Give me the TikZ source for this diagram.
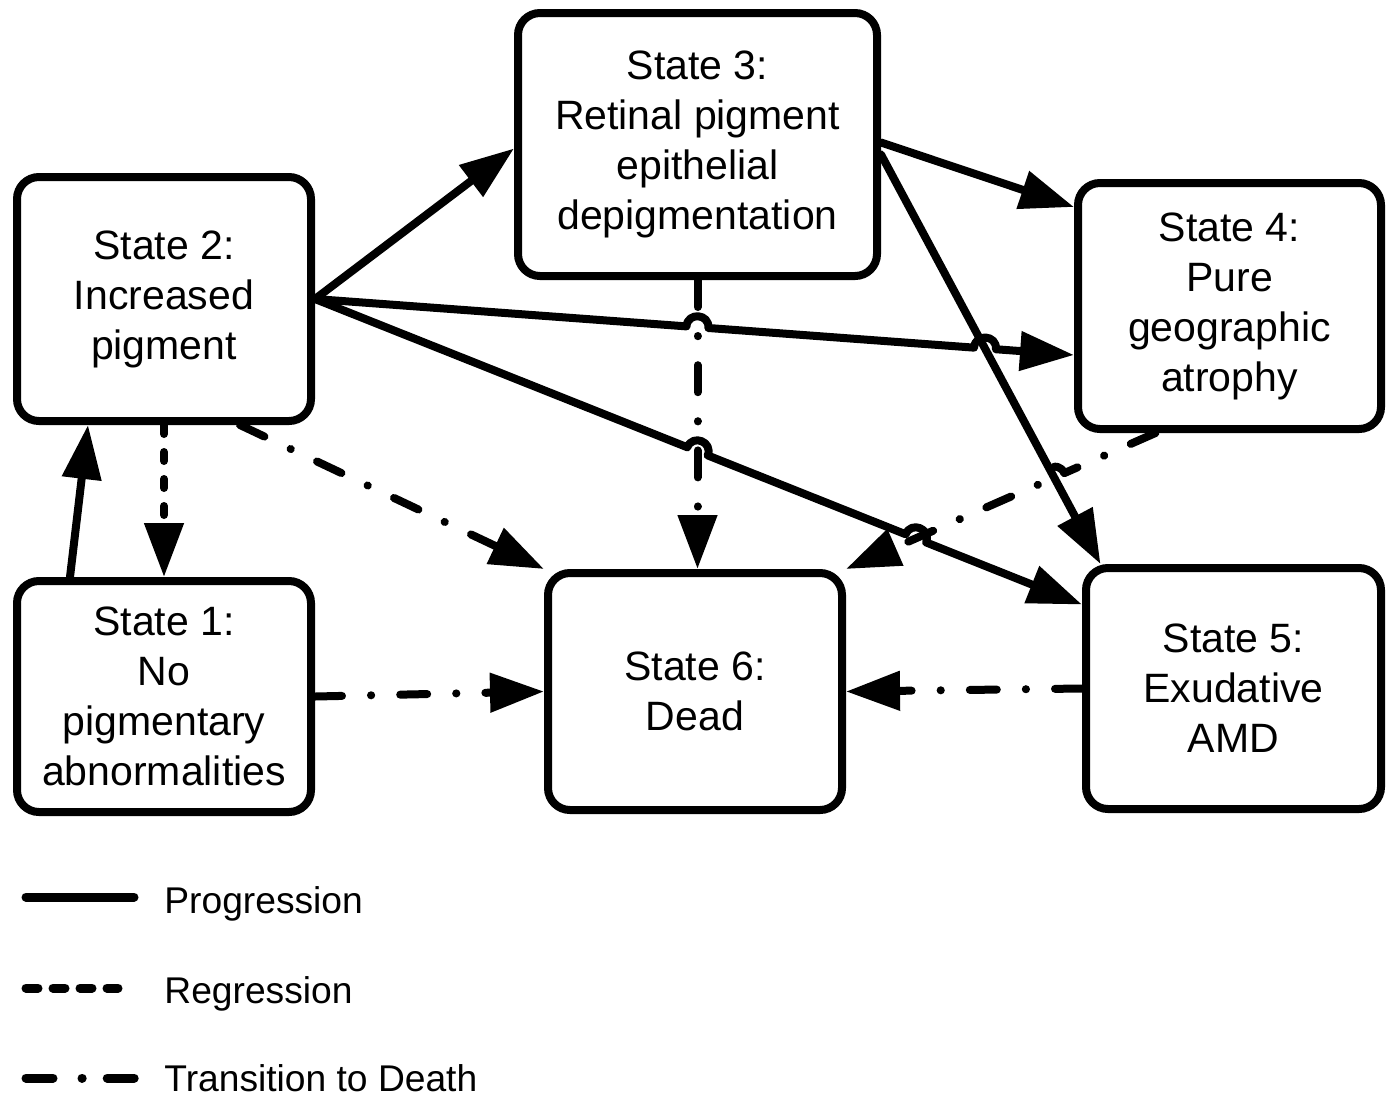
\documentclass[tikz,border=0pt]{standalone}
\usepackage{fontspec}
\setmainfont{Liberation Sans}
\usetikzlibrary{arrows.meta,calc}
\begin{document}
\begin{tikzpicture}[x=0.5pt,y=0.5pt,
  statebox/.style={draw, line width=4pt, rounded corners=11pt, align=center, inner sep=0pt,
    font=\fontsize{20.5pt}{25pt}\selectfont},
  conn/.style={line width=4pt, line cap=round, line join=round, -{Triangle[length=27pt,width=19pt]}},
  prog/.style={conn},
  regr/.style={conn, dash pattern=on 4.5pt off 9pt},
  death/.style={conn, dash pattern=on 13.5pt off 14.5pt on 0.1pt off 14.5pt},
  hopl/.style={bend left=90, looseness=1.7},
  hopr/.style={bend right=90, looseness=1.7},
  legtext/.style={anchor=base west, inner sep=0pt, font=\fontsize{18.6pt}{22pt}\selectfont}
]
\useasboundingbox (0,0) rectangle (1388,-1099);

% states
\node[statebox, minimum width=147pt, minimum height=115.5pt] (s1) at (164,-696.5) {State 1:\\No\\pigmentary\\abnormalities};
\node[statebox, minimum width=147pt, minimum height=122pt] (s2) at (164,-299) {State 2:\\Increased\\pigment};
\node[statebox, minimum width=179.5pt, minimum height=131.5pt] (s3) at (697.5,-144.5) {State 3:\\Retinal pigment\\epithelial\\depigmentation};
\node[statebox, minimum width=151.5pt, minimum height=123pt] (s4) at (1229.5,-306) {State 4:\\Pure\\geographic\\atrophy};
\node[statebox, minimum width=147.5pt, minimum height=120.5pt] (s5) at (1233.5,-688.5) {State 5:\\Exudative\\AMD};
\node[statebox, minimum width=147pt, minimum height=118.5pt] (s6) at (695,-691.5) {State 6:\\Dead};

% end points
\coordinate (o12) at ($(s1.north)+(-94,0)$);
\coordinate (e12) at ($(s2.south)+(-76,0)$);
\coordinate (c2o) at (s2.east);
\coordinate (e23) at ($(s3.west)+(0,-4)$);
\coordinate (e24) at ($(s4.west)+(0,-49)$);
\coordinate (e25) at ($(s5.west)+(0,84)$);
\coordinate (o26) at ($(s2.south)+(76,0)$);
\coordinate (o34) at ($(s3.east)+(0,2)$);
\coordinate (e34) at ($(s4.west)+(0,99)$);
\coordinate (o35) at ($(s3.east)+(0,-10)$);
\coordinate (e35) at ($(s5.north)+(-133,0)$);
\coordinate (o36) at (s3.south);
\coordinate (e36) at (s3.south |- s6.north);
\coordinate (o46) at ($(s4.south)+(-74,0)$);
\coordinate (e46) at (s6.north east);

% crossings
\coordinate (x1) at (intersection of c2o--e24 and o36--e36);
\coordinate (x2) at (intersection of c2o--e24 and o35--e35);
\coordinate (x3) at (intersection of c2o--e25 and o36--e36);
\coordinate (x4) at (intersection of c2o--e25 and o46--e46);
\coordinate (x5) at (intersection of o46--e46 and o35--e35);

% progression
\draw[prog] (o12) -- (e12);
\draw[prog] (c2o) -- (e23);
\draw[prog] (o34) -- (e34);
\draw[prog] (o35) -- (e35);
\draw[prog] (c2o) -- ($(x1)!5.5pt!(c2o)$) to[hopl] ($(x1)!5.5pt!(e24)$)
  -- ($(x2)!5.5pt!(c2o)$) to[hopl] ($(x2)!5.5pt!(e24)$) -- (e24);
\draw[prog] (c2o) -- ($(x3)!5.5pt!(c2o)$) to[hopl] ($(x3)!5.5pt!(e25)$)
  -- ($(x4)!5.5pt!(c2o)$) to[hopl] ($(x4)!5.5pt!(e25)$) -- (e25);

% regression
\draw[regr] (s2.south) -- (s1.north);

% transitions to death
\draw[death] (s1.east) -- (s6.west);
\draw[death] (o26) -- (s6.north west);
\draw[death] (o36) -- (e36);
\draw[death] (o46) -- ($(x5)!5.5pt!(o46)$) to[hopr] ($(x5)!5.5pt!(e46)$) -- (e46);
\draw[death] (s5.west) -- (s6.east);

% legend
\coordinate (la1) at (26,-897);  \coordinate (lb1) at (134,-897);
\coordinate (la2) at (26,-988);  \coordinate (lb2) at (118,-988);
\coordinate (la3) at (26,-1078); \coordinate (lb3) at (136,-1078);
\draw[line width=4.5pt, line cap=round] (la1) -- (lb1);
\draw[line width=4.5pt, line cap=round, dash pattern=on 6pt off 7.5pt] (la2) -- (lb2);
\draw[line width=4.5pt, line cap=round, dash pattern=on 13.5pt off 14.5pt on 0.1pt off 12.5pt] (la3) -- (lb3);
\node[legtext] (lp) at (164,-913) {Progression};
\node[legtext] (lr) at (164,-1003) {Regression};
\node[legtext] (ld) at (164,-1091) {Transition to Death};
\end{tikzpicture}
\end{document}
